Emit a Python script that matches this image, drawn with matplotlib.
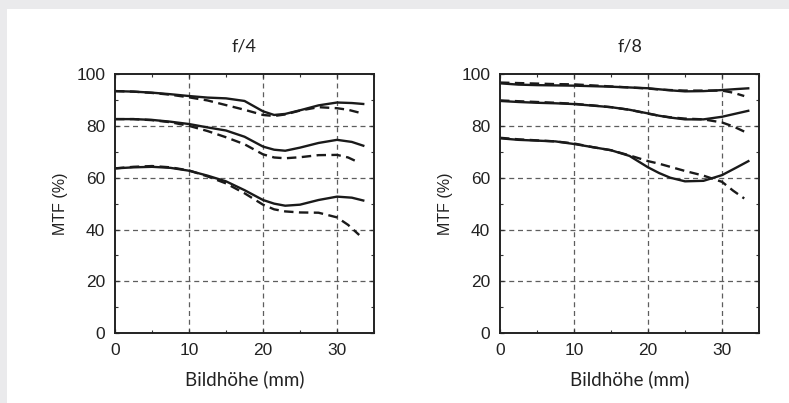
import numpy as np
import matplotlib
matplotlib.use('Agg')
import matplotlib.pyplot as plt
from matplotlib.patches import Rectangle
from matplotlib.ticker import MultipleLocator

# image height positions (mm) where the curves were read
x_solid = [0, 2.5, 5, 7.5, 10, 12.5, 15, 17.5, 20, 21.5, 23, 25, 27.5, 30, 32, 33.7]
x_dashed = [0, 2.5, 5, 7.5, 10, 12.5, 15, 17.5, 20, 21.5, 23, 25, 27.5, 30, 31.5, 33]

# f/4 -- solid = sagittal, dashed = meridional
f4_high_solid = [93.4, 93.2, 92.8, 92.2, 91.5, 90.9, 90.6, 89.6, 85.6, 84.2, 84.6, 86.0, 87.9, 89.0, 88.8, 88.4]
f4_high_dashed = [93.4, 93.2, 92.7, 92.0, 91.0, 89.8, 88.0, 86.2, 84.2, 83.8, 84.4, 85.9, 87.2, 86.8, 86.2, 85.1]
f4_mid_solid = [82.6, 82.6, 82.3, 81.6, 80.7, 79.4, 78.2, 75.8, 72.0, 70.8, 70.4, 71.6, 73.4, 74.6, 73.8, 72.2]
f4_mid_dashed = [82.6, 82.6, 82.2, 81.4, 80.0, 78.0, 75.6, 72.9, 69.0, 67.8, 67.5, 67.9, 68.7, 68.8, 67.8, 65.8]
f4_low_solid = [63.6, 64.0, 64.2, 63.8, 62.7, 60.8, 58.6, 55.2, 51.4, 50.0, 49.2, 49.6, 51.4, 52.7, 52.3, 51.1]
f4_low_dashed = [63.6, 64.2, 64.5, 64.0, 62.8, 60.5, 57.8, 54.0, 49.6, 47.8, 47.0, 46.6, 46.5, 44.7, 41.8, 37.9]

# f/8
f8_high_solid = [96.4, 95.9, 95.7, 95.6, 95.5, 95.3, 95.1, 94.8, 94.5, 94.1, 93.7, 93.3, 93.4, 93.8, 94.2, 94.5]
f8_high_dashed = [96.7, 96.5, 96.3, 96.1, 96.0, 95.6, 95.2, 94.8, 94.4, 94.0, 93.8, 93.6, 93.6, 93.6, 92.8, 91.5]
f8_mid_solid = [89.6, 89.2, 88.9, 88.7, 88.4, 87.8, 87.2, 86.2, 84.8, 83.9, 83.2, 82.5, 82.5, 83.5, 84.8, 85.9]
f8_mid_dashed = [89.8, 89.5, 89.2, 88.9, 88.5, 87.9, 87.2, 86.2, 84.7, 83.9, 83.3, 82.8, 82.5, 81.3, 79.8, 77.8]
f8_low_solid = [75.2, 74.6, 74.3, 74.0, 73.0, 71.8, 70.6, 68.4, 64.0, 61.8, 60.0, 58.6, 58.8, 61.0, 64.0, 66.6]
f8_low_dashed = [75.4, 74.8, 74.4, 74.0, 73.2, 71.8, 70.6, 68.6, 66.4, 65.4, 64.2, 62.6, 60.8, 58.4, 55.0, 52.0]

titles = ['f/4', 'f/8']
panels = [
    [f4_high_solid, f4_mid_solid, f4_low_solid],
    [f8_high_solid, f8_mid_solid, f8_low_solid],
]
panels_dashed = [
    [f4_high_dashed, f4_mid_dashed, f4_low_dashed],
    [f8_high_dashed, f8_mid_dashed, f8_low_dashed],
]

fig = plt.figure(figsize=(7.89, 4.03), dpi=100)
fig.patch.set_facecolor('#eaeaec')
fig.patches.append(Rectangle((7 / 789, 0), 1, 394 / 403, transform=fig.transFigure,
                             facecolor='white', edgecolor='none', zorder=-10))

lefts = [115 / 789, 500 / 789]
for i in range(2):
    ax = fig.add_axes([lefts[i], 0.173, 0.3283, 0.6434])
    ax.set_facecolor('white')
    for ys in panels[i]:
        ax.plot(x_solid, ys, color='#1a1a1a', lw=1.7, solid_capstyle='butt', solid_joinstyle='round')
    for ys in panels_dashed[i]:
        ax.plot(x_dashed, ys, color='#1a1a1a', lw=1.7, dashes=(4, 2.3))

    ax.set_xlim(0, 35)
    ax.set_ylim(0, 100)
    ax.set_xticks([0, 10, 20, 30])
    ax.set_yticks([0, 20, 40, 60, 80, 100])
    ax.xaxis.set_minor_locator(MultipleLocator(5))
    ax.yaxis.set_minor_locator(MultipleLocator(10))
    ax.tick_params(which='both', direction='in', top=True, right=True, color='#333333')
    ax.tick_params(which='major', length=3, width=0.9, pad=7, labelsize=12.5)
    ax.tick_params(which='minor', length=2.5, width=0.8)
    for lab in ax.get_xticklabels() + ax.get_yticklabels():
        lab.set_family('Liberation Sans')
        lab.set_color('#222222')

    # only the inner grid lines, dashed grey
    for gx in [10, 20, 30]:
        ax.axvline(gx, color='#5e5e5e', lw=0.9, dashes=(4, 3), zorder=0.5)
    for gy in [20, 40, 60, 80]:
        ax.axhline(gy, color='#5e5e5e', lw=0.9, dashes=(4, 3), zorder=0.5)

    for sp in ax.spines.values():
        sp.set_linewidth(1.4)
        sp.set_color('#222222')

    ax.set_title(titles[i], fontsize=13, family='Lato', color='#222222', pad=16)
    ax.set_xlabel('Bildhöhe (mm)', fontsize=13.5, family='Lato', color='#222222', labelpad=9)
    ax.set_ylabel('MTF (%)', fontsize=11.5, family='Liberation Sans', color='#222222', labelpad=6)

fig.savefig('out.png', dpi=100, facecolor=fig.get_facecolor())
